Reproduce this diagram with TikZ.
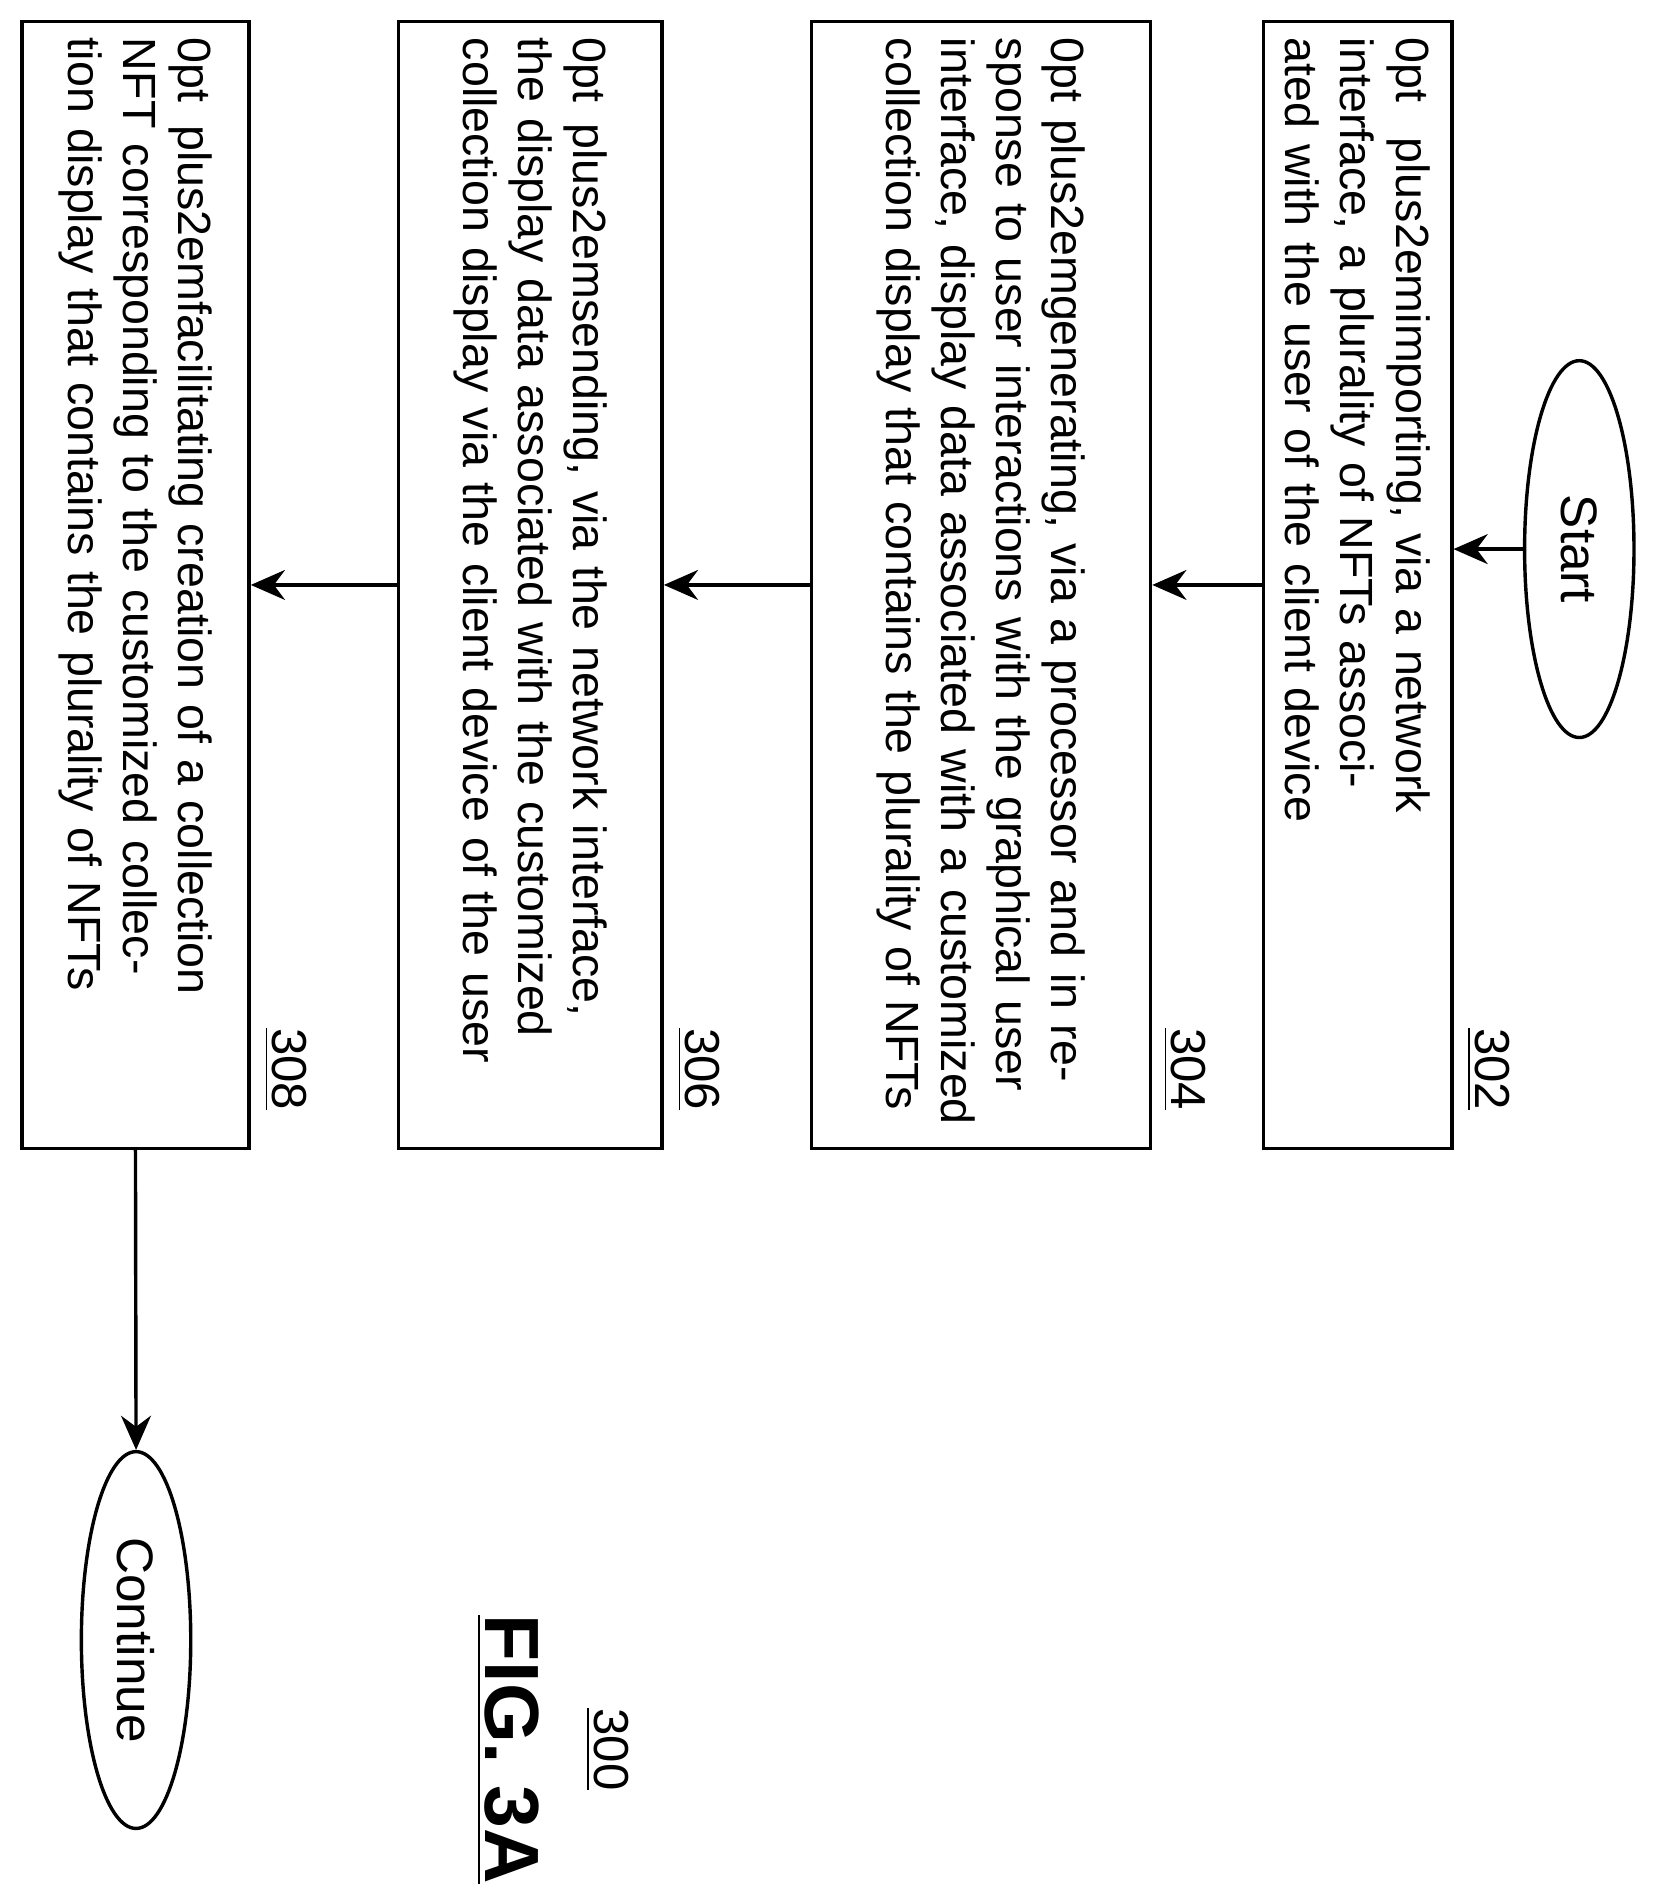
\documentclass[tikz,border=0pt]{standalone}
\usepackage{fontspec}
\setmainfont{Liberation Sans}
\usetikzlibrary{shapes.geometric,positioning,arrows.meta}
\tikzset{stepbox/.style={draw,thick,rotate=-90,minimum width=9.27cm,text width=9.0cm,align=center,inner sep=2pt,font=\fontsize{10.9}{12.9}\selectfont\hyphenpenalty=10000\exhyphenpenalty=10000},
  term/.style={draw,thick,ellipse,rotate=-90,minimum width=3.1cm,minimum height=0.9cm,font=\fontsize{12}{14}\selectfont},
  ref/.style={rotate=-90,font=\fontsize{11.5}{13}\selectfont},
  flow/.style={thick,-{Stealth[length=8pt,width=7pt]}}}
\begin{document}
\begin{tikzpicture}[x=0.01cm,y=-0.01cm]
\useasboundingbox (0,0) rectangle (1365,1564);

\node[term] (start) at (1300,452) {Start};
\node[stepbox,minimum height=1.55cm] (s302) at (1117.5,481.5) {importing, via a network interface, a plurality of NFTs associated with the user of the client device};
\node[stepbox,minimum height=2.79cm] (s304) at (807.5,481.5) {generating, via a processor and in response to user interactions with the graphical user interface, display data associated with a customized collection display that contains the plurality of NFTs};
\node[stepbox,minimum height=2.17cm] (s306) at (436.5,481.5) {sending, via the network interface, the display data associated with the customized collection display via the client device of the user};
\node[stepbox,minimum height=1.87cm] (s308) at (111.5,481.5) {facilitating creation of a collection NFT corresponding to the customized collection display that contains the plurality of NFTs};
\node[term] (cont) at (112,1350) {Continue};

\node[ref] (n302) at (1225,880) {\underline{302}};
\node[ref] (n304) at (975,880) {\underline{304}};
\node[ref] (n306) at (575,880) {\underline{306}};
\node[ref] (n308) at (235,880) {\underline{308}};
\node[ref] (n300) at (500,1440) {\underline{300}};
\node[rotate=-90,font=\fontsize{18}{20}\selectfont\bfseries] (fig) at (418,1440) {\underline{FIG. 3A}};

\draw[flow] (start.south) -- (start.south -| s302.north);
\draw[flow] (s302.south) -- (s304.north);
\draw[flow] (s304.south) -- (s306.north);
\draw[flow] (s306.south) -- (s308.north);
\draw[flow] (s308.east) -- (cont.west);
\end{tikzpicture}
\end{document}
